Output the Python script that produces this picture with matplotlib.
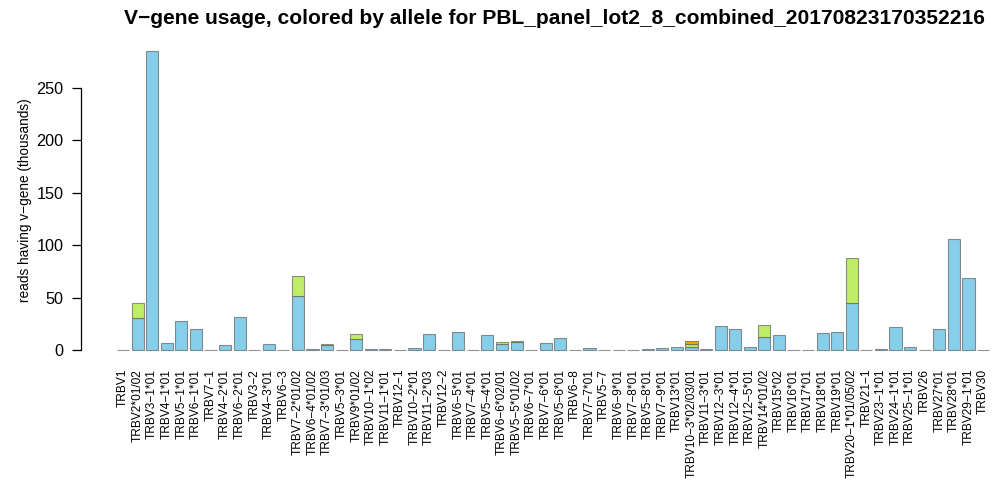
import numpy as np
import matplotlib
matplotlib.use("Agg")
import matplotlib.pyplot as plt

plt.rcParams['font.family'] = ['Liberation Sans', 'DejaVu Sans']

# V-genes in chromosomal order
genes = ["TRBV1", "TRBV2*01/02", "TRBV3-1*01", "TRBV4-1*01", "TRBV5-1*01", "TRBV6-1*01",
         "TRBV7-1", "TRBV4-2*01", "TRBV6-2*01", "TRBV3-2", "TRBV4-3*01", "TRBV6-3",
         "TRBV7-2*01/02", "TRBV6-4*01/02", "TRBV7-3*01/03", "TRBV5-3*01", "TRBV9*01/02",
         "TRBV10-1*02", "TRBV11-1*01", "TRBV12-1", "TRBV10-2*01", "TRBV11-2*03", "TRBV12-2",
         "TRBV6-5*01", "TRBV7-4*01", "TRBV5-4*01", "TRBV6-6*02/01", "TRBV5-5*01/02",
         "TRBV6-7*01", "TRBV7-6*01", "TRBV5-6*01", "TRBV6-8", "TRBV7-7*01", "TRBV5-7",
         "TRBV6-9*01", "TRBV7-8*01", "TRBV5-8*01", "TRBV7-9*01", "TRBV13*01",
         "TRBV10-3*02/03/01", "TRBV11-3*01", "TRBV12-3*01", "TRBV12-4*01", "TRBV12-5*01",
         "TRBV14*01/02", "TRBV15*02", "TRBV16*01", "TRBV17*01", "TRBV18*01", "TRBV19*01",
         "TRBV20-1*01/05/02", "TRBV21-1", "TRBV23-1*01", "TRBV24-1*01", "TRBV25-1*01",
         "TRBV26", "TRBV27*01", "TRBV28*01", "TRBV29-1*01", "TRBV30"]

# reads (thousands) for first, second and third allele
allele1 = [0, 31, 285, 6.4, 27.3, 20.3,
           0, 5.1, 31.1, 0, 5.4, 0,
           51.8, 1.0, 4.8, 0, 10.2,
           1.0, 0.8, 0, 1.9, 15.2, 0,
           17.2, 0, 14.0, 5.4, 7.6,
           0, 6.4, 11.1, 0, 1.6, 0,
           0, 0.5, 0.7, 1.9, 2.5,
           3.2, 1.3, 22.6, 20.3, 2.5,
           12.1, 14.6, 0.4, 0, 15.9, 16.9,
           44.5, 0, 0.6, 21.6, 2.5,
           0, 19.7, 106.1, 68.3, 0]
allele2 = [0, 14, 0, 0, 0, 0,
           0, 0, 0, 0, 0, 0,
           18.7, 0, 1.2, 0, 4.8,
           0, 0, 0, 0, 0, 0,
           0, 0, 0, 2.2, 1.0,
           0, 0, 0, 0, 0, 0,
           0, 0, 0, 0, 0,
           2.5, 0, 0, 0, 0,
           11.4, 0, 0, 0, 0, 0,
           42.9, 0, 0, 0, 0,
           0, 0, 0, 0, 0]
allele3 = [0] * 39 + [3.0] + [0] * 20

colors = ["#87CEEB", "#BFEE66", "#FFA500"]

fig = plt.figure(figsize=(9.97, 4.83), dpi=100)
ax = fig.add_axes([81 / 997, 0.2505, 916 / 997, 0.6685])

x = 0.7 + 1.2 * np.arange(len(genes))
a1 = np.array(allele1)
a2 = np.array(allele2)
a3 = np.array(allele3)
edge = (0.35, 0.35, 0.35, 0.65)
ax.bar(x, a1, width=1.0, color=colors[0], edgecolor=edge, linewidth=0.8)
m = a2 > 0
ax.bar(x[m], a2[m], bottom=a1[m], width=1.0, color=colors[1], edgecolor=edge, linewidth=0.8)
m = a3 > 0
ax.bar(x[m], a3[m], bottom=(a1 + a2)[m], width=1.0, color=colors[2], edgecolor=edge, linewidth=0.8)

ax.set_xlim(-2.758, 72.65)
ax.set_ylim(-11.4, 296.4)

for s in ['top', 'right', 'bottom']:
    ax.spines[s].set_visible(False)
ax.spines['left'].set_bounds(0, 250)
ax.spines['left'].set_linewidth(0.9)
ax.set_yticks(np.arange(0, 251, 50))
ax.tick_params(axis='y', length=6.5, width=0.9, pad=6, labelsize=11.7)
ax.set_xticks(x)
ax.set_xticklabels([g.replace('-', '\u2212') for g in genes], rotation=90, fontsize=8.6)
ax.tick_params(axis='x', length=0, pad=5)

fig.text(25 / 997, 0.585, "reads having v\u2212gene (thousands)", rotation=90,
         ha='center', va='center', fontsize=9.8)
fig.text(554 / 997, 1 - 18.5 / 483,
         "V\u2212gene usage, colored by allele for PBL_panel_lot2_8_combined_20170823170352216",
         ha='center', va='center', fontsize=15.1, fontweight='bold')

fig.savefig("out.png", dpi=100)
